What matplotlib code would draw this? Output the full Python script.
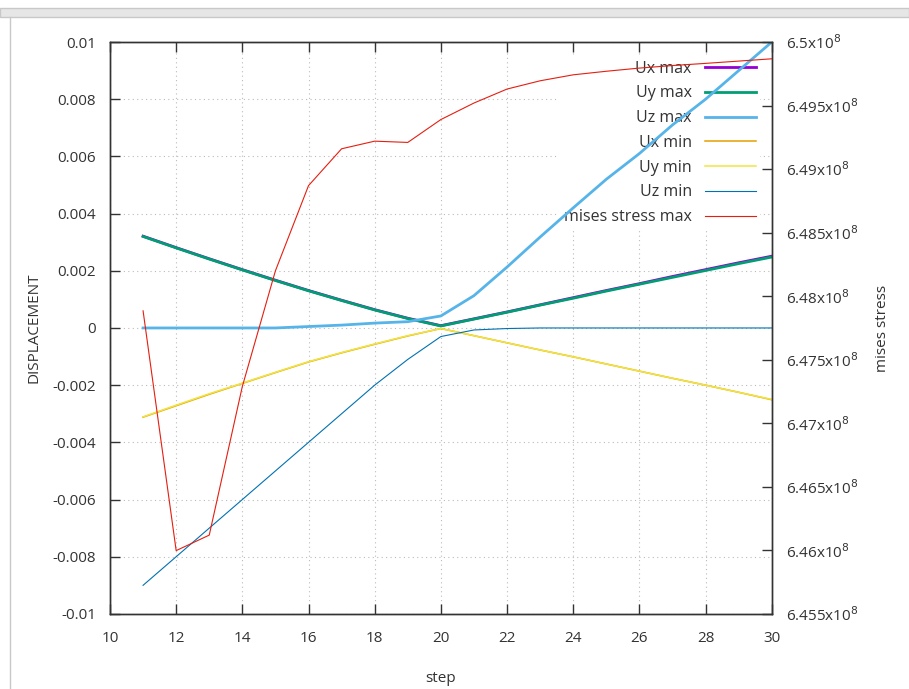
import matplotlib.pyplot as plt
import matplotlib
from matplotlib.patches import Rectangle
from matplotlib.lines import Line2D
from matplotlib.ticker import FuncFormatter, MultipleLocator

matplotlib.rcParams['font.family'] = ['Open Sans', 'DejaVu Sans']
matplotlib.rcParams['font.size'] = 11

# data
steps = list(range(11, 31))
ux_max = [0.00321, 0.00281, 0.00242, 0.00204, 0.00167, 0.00131, 0.00097, 0.00064, 0.00034, 0.00008,
          0.00032, 0.00056, 0.00081, 0.00106, 0.00131, 0.00155, 0.00180, 0.00204, 0.00228, 0.00251]
uy_max = [0.00320, 0.00280, 0.00241, 0.00203, 0.00166, 0.00130, 0.00096, 0.00063, 0.00033, 0.00007,
          0.00031, 0.00055, 0.00080, 0.00104, 0.00129, 0.00153, 0.00177, 0.00201, 0.00225, 0.00248]
uz_max = [0.0, 0.0, 0.0, 0.0, 0.0, 0.00005, 0.00010, 0.00017, 0.00022, 0.00042,
          0.00113, 0.00213, 0.00318, 0.00420, 0.00520, 0.00610, 0.00710, 0.00800, 0.00900, 0.01000]
ux_min = [-0.00312, -0.00272, -0.00232, -0.00194, -0.00156, -0.00119, -0.00087, -0.00057, -0.00028, -0.00002,
          -0.00027, -0.00052, -0.00077, -0.00101, -0.00126, -0.00151, -0.00176, -0.00200, -0.00225, -0.00251]
uy_min = [-0.00311, -0.00270, -0.00230, -0.00193, -0.00155, -0.00118, -0.00086, -0.00056, -0.00027, -0.00002,
          -0.00027, -0.00052, -0.00077, -0.00101, -0.00126, -0.00151, -0.00176, -0.00200, -0.00225, -0.00250]
uz_min = [-0.0090, -0.0080, -0.0070, -0.0060, -0.0050, -0.0040, -0.0030, -0.0020, -0.0011, -0.0003,
          -0.00007, -0.00002, 0.0, 0.0, 0.0, 0.0, 0.0, 0.0, 0.0, 0.0]
mises = [6.47885e8, 6.45998e8, 6.4612e8, 6.4729e8, 6.4820e8, 6.4887e8, 6.4916e8, 6.4922e8, 6.4921e8, 6.4939e8,
         6.4952e8, 6.4963e8, 6.49695e8, 6.49742e8, 6.4977e8, 6.49795e8, 6.49815e8, 6.49832e8, 6.4985e8, 6.49868e8]

fig = plt.figure(figsize=(9.09, 6.89), dpi=100)

# window frame of the screenshot
fig.patches.append(Rectangle((0, 0.976), 1, 0.012, transform=fig.transFigure,
                             facecolor='#e6e6e6', edgecolor='#c8c8c8', lw=1))
fig.lines.append(Line2D([0.011, 0.011], [0, 0.976], transform=fig.transFigure,
                        color='#c8c8c8', lw=1))

ax = fig.add_axes([0.121, 0.109, 0.728, 0.830])
ax2 = ax.twinx()

ax.plot(steps, ux_max, color='#9400d3', lw=2, label='Ux max')
ax.plot(steps, uy_max, color='#009e73', lw=2, label='Uy max')
ax.plot(steps, uz_max, color='#56b4e9', lw=2, label='Uz max')
ax.plot(steps, ux_min, color='#e69f00', lw=1.1, label='Ux min')
ax.plot(steps, uy_min, color='#f0e442', lw=1.1, label='Uy min')
ax.plot(steps, uz_min, color='#0072b2', lw=0.8, label='Uz min')
ax2.plot(steps, mises, color='#e51e10', lw=0.8, label='mises stress max')

ax.set_xlim(10, 30)
ax.set_ylim(-0.01, 0.01)
ax2.set_ylim(6.455e8, 6.5e8)

ax.xaxis.set_major_locator(MultipleLocator(2))
ax.yaxis.set_major_locator(MultipleLocator(0.002))
ax2.yaxis.set_major_locator(MultipleLocator(0.005e8))


def left_fmt(v, pos):
    if abs(v) < 1e-12:
        return '0'
    return ('%.3f' % v).rstrip('0')


def right_fmt(v, pos):
    s = ('%.3f' % (v / 1e8)).rstrip('0').rstrip('.')
    return s + r'x10$^{8}$'


ax.yaxis.set_major_formatter(FuncFormatter(left_fmt))
ax2.yaxis.set_major_formatter(FuncFormatter(right_fmt))

ax.tick_params(axis='x', direction='in', top=True, length=7, width=1, pad=12, colors='#333333')
ax.tick_params(axis='y', direction='in', left=True, right=False, length=7, width=1, pad=10, colors='#333333')
ax2.tick_params(axis='y', direction='in', length=7, width=1, pad=10, colors='#333333')
for a in (ax, ax2):
    for s in a.spines.values():
        s.set_color('#333333')
        s.set_linewidth(1)

ax.set_axisbelow(True)
ax.grid(True, linestyle=(0, (1, 3)), color='#bbbbbb', lw=0.8)

ax.set_xlabel('step', labelpad=18, color='#333333')
ax.set_ylabel('DISPLACEMENT', labelpad=8, color='#333333')
ax2.set_ylabel('mises stress', labelpad=12, color='#333333')

h1, l1 = ax.get_legend_handles_labels()
h2, l2 = ax2.get_legend_handles_labels()
leg = ax.legend(h1 + h2, l1 + l2, loc='upper right', bbox_to_anchor=(0.995, 0.99),
                markerfirst=False, frameon=True, fancybox=False, edgecolor='none',
                facecolor='white', framealpha=1, handlelength=3.2, labelspacing=0.55,
                handletextpad=0.8, borderpad=0.3, fontsize=11.5)
leg.set_zorder(1)
for t in leg.get_texts():
    t.set_color('#333333')

fig.savefig('out.png', dpi=100)
